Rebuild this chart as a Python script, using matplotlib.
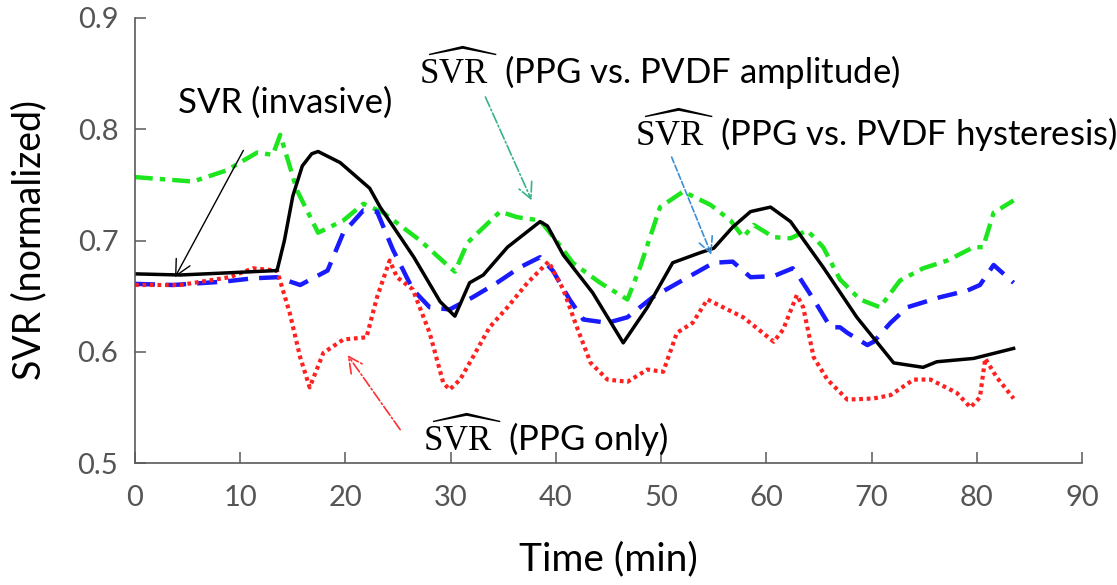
import matplotlib
matplotlib.use("Agg")
import matplotlib.pyplot as plt

# ---- data ----
t_inv = [0, 4.3, 9.0, 13.5, 14.2, 15.0, 15.9, 16.8, 17.4, 19.5, 22.3, 23.3, 26.5, 29.0, 30.4,
         31.8, 33.1, 35.4, 38.5, 39.2, 40.7, 43.5, 46.4, 48.7, 51.1, 53.7, 55.0, 56.8,
         58.5, 60.4, 62.3, 65.4, 68.6, 72.1, 74.9, 76.2, 79.7, 83.5]
svr_inv = [0.670, 0.669, 0.671, 0.673, 0.700, 0.740, 0.767, 0.778, 0.780, 0.770, 0.747, 0.730,
           0.685, 0.645, 0.632, 0.662, 0.669, 0.694, 0.717, 0.713, 0.687, 0.653, 0.608,
           0.640, 0.680, 0.689, 0.693, 0.712, 0.726, 0.730, 0.717, 0.676, 0.631, 0.590,
           0.586, 0.591, 0.594, 0.603]

t_amp = [0, 5.5, 8.7, 11.6, 13.1, 13.8, 15.4, 17.4, 19.8, 21.7, 23.6, 27.1, 29.9, 30.4,
         31.6, 34.7, 36.3, 38.5, 40.1, 41.6, 44.2, 46.8, 48.0, 49.9, 52.1, 54.7, 56.6,
         57.8, 58.8, 60.7, 62.3, 63.9, 65.4, 67.0, 68.9, 70.8, 72.7, 74.9, 77.2, 79.7,
         80.6, 81.6, 83.5]
svr_amp = [0.757, 0.753, 0.763, 0.779, 0.777, 0.795, 0.745, 0.707, 0.718, 0.733, 0.725,
           0.700, 0.676, 0.672, 0.698, 0.726, 0.721, 0.718, 0.699, 0.680, 0.662, 0.647,
           0.676, 0.730, 0.744, 0.732, 0.718, 0.703, 0.714, 0.703, 0.702, 0.709, 0.694,
           0.665, 0.647, 0.640, 0.664, 0.675, 0.682, 0.694, 0.694, 0.725, 0.736]

t_hys = [0, 3.6, 8.4, 11.2, 13.5, 15.7, 18.3, 19.8, 21.7, 23.0, 24.5, 26.4, 28.0, 29.9,
         32.1, 34.4, 36.6, 38.5, 39.7, 41.3, 42.6, 44.9, 46.8, 48.0, 49.2, 51.8, 55.0,
         56.8, 58.5, 60.7, 62.5, 63.2, 64.5, 66.1, 67.0, 67.7, 69.6, 70.2, 71.8, 73.4,
         76.5, 79.1, 80.3, 81.6, 83.5]
svr_hys = [0.661, 0.660, 0.663, 0.666, 0.667, 0.660, 0.673, 0.707, 0.727, 0.726, 0.692,
           0.656, 0.640, 0.638, 0.649, 0.662, 0.676, 0.685, 0.673, 0.647, 0.629, 0.626,
           0.631, 0.640, 0.649, 0.663, 0.680, 0.681, 0.667, 0.668, 0.675, 0.666, 0.647,
           0.622, 0.622, 0.617, 0.606, 0.609, 0.626, 0.640, 0.649, 0.655, 0.660, 0.678,
           0.662]

t_ppg = [0, 4.3, 9.0, 11.2, 13.5, 14.7, 15.7, 16.6, 17.9, 19.8, 22.0, 23.0, 24.2, 24.9,
         26.4, 28.0, 29.3, 29.9, 30.9, 32.1, 33.7, 35.4, 37.3, 39.3, 40.7, 42.0, 43.3,
         44.9, 46.8, 48.7, 50.2, 51.5, 53.0, 54.4, 56.3, 57.8, 59.4, 60.7, 61.6, 62.9,
         63.5, 64.5, 65.8, 67.7, 70.2, 71.8, 74.0, 75.6, 78.1, 79.4, 80.3, 80.8, 81.9,
         83.5]
svr_ppg = [0.660, 0.660, 0.667, 0.675, 0.673, 0.635, 0.595, 0.568, 0.599, 0.611, 0.613,
           0.649, 0.682, 0.667, 0.656, 0.617, 0.572, 0.566, 0.575, 0.595, 0.622, 0.640,
           0.662, 0.681, 0.656, 0.622, 0.590, 0.575, 0.573, 0.584, 0.582, 0.617, 0.626,
           0.647, 0.638, 0.631, 0.619, 0.609, 0.620, 0.651, 0.640, 0.595, 0.575, 0.557,
           0.558, 0.561, 0.575, 0.575, 0.563, 0.550, 0.559, 0.594, 0.577, 0.558]

x_ticks = [0, 10, 20, 30, 40, 50, 60, 70, 80, 90]
y_ticks = [0.5, 0.6, 0.7, 0.8, 0.9]

HAT = r'$\widehat{\mathrm{SVR}}$'
lbl_inv = 'SVR (invasive)'
lbl_amp = HAT + '  (PPG vs. PVDF amplitude)'
lbl_hys = HAT + '  (PPG vs. PVDF hysteresis)'
lbl_ppg = HAT + '  (PPG only)'

plt.rcParams['mathtext.fontset'] = 'custom'
plt.rcParams['mathtext.rm'] = 'Liberation Serif'
plt.rcParams['mathtext.it'] = 'Liberation Serif:italic'

fig = plt.figure(figsize=(11.17, 5.85), dpi=100)
ax = fig.add_axes([135 / 1117, 1 - 463 / 585, (1082 - 135) / 1117, (463 - 18) / 585])

ax.plot(t_amp, svr_amp, color='#1ee61e', lw=3.2, linestyle=(0, (4, 1.6, 1.2, 1.6)))
ax.plot(t_hys, svr_hys, color='#1a1aff', lw=3.2, linestyle=(0, (4.5, 2.5)))
ax.plot(t_ppg, svr_ppg, color='#ff2020', lw=3.0, linestyle=(0, (0.9, 0.9)))
ax.plot(t_inv, svr_inv, color='black', lw=2.5)

ax.set_xlim(0, 90)
ax.set_ylim(0.5, 0.9)
ax.set_xticks(x_ticks)
ax.set_yticks(y_ticks)
ax.set_xticklabels([str(v) for v in x_ticks])
ax.set_yticklabels([f'{v:.1f}' for v in y_ticks])

for s in ['top', 'right']:
    ax.spines[s].set_visible(False)
for s in ['left', 'bottom']:
    ax.spines[s].set_color('#5a5a5a')
    ax.spines[s].set_linewidth(1.2)
ax.tick_params(direction='in', length=8, width=1.1, color='#5a5a5a',
               labelcolor='#555555', labelsize=21)
ax.tick_params(axis='x', pad=16)
ax.tick_params(axis='y', pad=12)
for lab in ax.get_xticklabels() + ax.get_yticklabels():
    lab.set_family('Lato')

ax.set_xlabel('Time (min)', fontsize=28, family='Lato', labelpad=22)
ax.set_ylabel('SVR (normalized)', fontsize=27, family='Lato', labelpad=22)

ax.annotate('', xy=(3.8, 0.667), xytext=(10.3, 0.781), annotation_clip=False,
            arrowprops=dict(arrowstyle='->', color='black', lw=1.0,
                            shrinkA=0, shrinkB=0, mutation_scale=28))
ax.annotate('', xy=(37.7, 0.736), xytext=(33.3, 0.829), annotation_clip=False,
            arrowprops=dict(arrowstyle='->', color='#38b386', lw=1.2, linestyle='-.',
                            shrinkA=0, shrinkB=0, mutation_scale=28))
ax.annotate('', xy=(54.8, 0.687), xytext=(51.0, 0.775), annotation_clip=False,
            arrowprops=dict(arrowstyle='->', color='#3a8fd8', lw=1.2, linestyle='--',
                            shrinkA=0, shrinkB=0, mutation_scale=28))
ax.annotate('', xy=(20.2, 0.597), xytext=(25.2, 0.530), annotation_clip=False,
            arrowprops=dict(arrowstyle='->', color='#ff3030', lw=1.2, linestyle='-.',
                            shrinkA=0, shrinkB=0, mutation_scale=28))

tkw = dict(fontsize=25, family='Lato', ha='center', va='center', clip_on=False)
ax.text(14.3, 0.8236, lbl_inv, **tkw)
ax.text(49.9, 0.855, lbl_amp, **tkw)
ax.text(70.4, 0.799, lbl_hys, **tkw)
ax.text(39.0, 0.525, lbl_ppg, **tkw)

fig.savefig('out.png', dpi=100)
